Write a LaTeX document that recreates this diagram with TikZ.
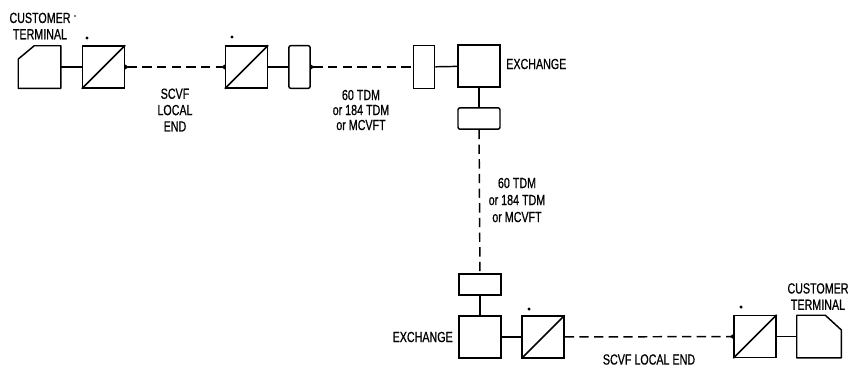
\documentclass[tikz,border=0pt]{standalone}
\usepackage{fontspec}
\setmainfont[FakeStretch=0.73,FakeBold=0.7]{Liberation Sans}
\usetikzlibrary{arrows.meta}
\tikzset{
  unit/.style={draw, line width=1.1pt, inner sep=0pt, minimum width=31.5pt, minimum height=31.5pt},
  converter/.style={unit},
  terminal/.style={inner sep=0pt, minimum height=31.5pt},
  lineunit/.style={draw, line width=1.1pt, inner sep=0pt, minimum width=16pt, minimum height=32pt},
  lineunitH/.style={draw, line width=1.1pt, inner sep=0pt, minimum width=31.5pt, minimum height=16pt},
  label/.style={inner sep=0pt, font=\fontsize{11}{11.25}\selectfont, align=center},
  spot/.style={circle, fill=black, inner sep=0pt, minimum size=2.6pt},
  link/.style={line width=1.1pt},
  dashlink/.style={line width=1.1pt, dash pattern=on 7pt off 4pt},
  spur/.tip={Latex[reversed, length=3pt, width=4pt]}
}
\begin{document}
\begin{tikzpicture}[x=0.75pt, y=-0.75pt]
        \useasboundingbox (0, 0) rectangle (848, 368);
        % top row
        \node[terminal, minimum width=31.5pt] (T1) at (39.5, 67) {};
        \node[converter] (M1) at (103.5, 67) {};
        \node[converter] (M2) at (246.5, 67) {};
        \node[lineunit, rounded corners=1.5pt] (L1) at (299.5, 67) {};
        \node[lineunit] (L2) at (424, 67) {};
        \node[unit] (E1) at (479, 66) {};
        \node[lineunitH, rounded corners=1.5pt] (L3) at (479, 118.5) {};
        % bottom row
        \node[lineunitH] (L4) at (480, 284.5) {};
        \node[unit] (E2) at (480, 337) {};
        \node[converter] (M3) at (543, 337) {};
        \node[converter] (M4) at (755, 336.5) {};
        \node[terminal, minimum width=33pt] (T2) at (819, 336.5) {};
        % terminal outlines
        \draw[link, line join=round] (T1.south west) -- ([yshift=-10pt]T1.north west) -- ([xshift=12pt]T1.north west) -- (T1.north east) -- (T1.south east) -- cycle;
        \draw[link, line join=round] (T2.south west) -- (T2.north west) -- ([xshift=-12pt]T2.north east) -- ([yshift=-11pt]T2.north east) -- (T2.south east) -- cycle;
        % diagonals
        \draw[link] (M1.south west) -- (M1.north east);
        \draw[link] (M2.south west) -- (M2.north east);
        \draw[link] (M3.south west) -- (M3.north east);
        \draw[link] (M4.south west) -- (M4.north east);
        % connections
        \draw[link] (T1) -- (M1);
        \draw[dashlink, spur-spur] (M1) -- (M2);
        \draw[link] (M2) -- (L1);
        \draw[dashlink, spur-] (L1) -- (L2);
        \draw[link] (L2) -- (E1);
        \draw[link] (E1) -- (L3);
        \draw[dashlink] (L3) -- (L4);
        \draw[link] (L4) -- (E2);
        \draw[link] (E2) -- (M3);
        \draw[dashlink, -spur] (M3) -- (M4);
        \draw[link] (M4) -- (T2);
        % spots over the converters
        \node[spot] (S1) at (87, 38) {};
        \node[spot] (S2) at (232, 37) {};
        \node[spot] (S3) at (529, 309) {};
        \node[spot] (S4) at (741, 307) {};
        \node[spot, minimum size=1.2pt] (S5) at (75, 16) {};
        % labels
        \node[label] (C1) at (40, 26) {CUSTOMER\\[1pt]TERMINAL};
        \node[label] (C2) at (818, 296.5) {CUSTOMER\\[1pt]TERMINAL};
        \node[label] (N1) at (175, 110) {SCVF\\[1pt]LOCAL\\[1pt]END};
        \node[label] (N2) at (361, 110) {60 TDM\\or 184 TDM\\or MCVFT};
        \node[label] (N3) at (517, 200) {60 TDM\\[1.5pt]or 184 TDM\\[1.5pt]or MCVFT};
        \node[label, anchor=west] (X1) at (506, 64) {EXCHANGE};
        \node[label, anchor=east] (X2) at (453, 337) {EXCHANGE};
        \node[label] (N4) at (649, 359.5) {SCVF LOCAL END};
      \end{tikzpicture}
\end{document}
